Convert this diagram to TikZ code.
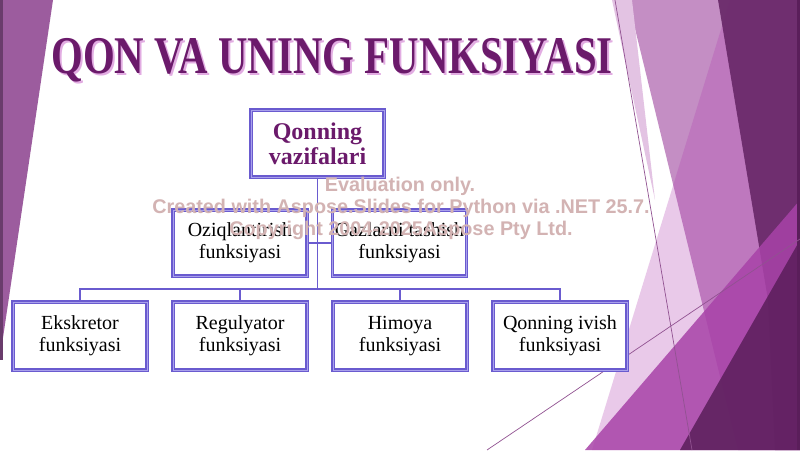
\documentclass[tikz,border=0pt]{standalone}
\usepackage{fontspec}
\setmainfont{Liberation Serif}
\newfontfamily\wmfont{Liberation Sans}
\definecolor{boxc}{HTML}{6A5BCF}
\definecolor{boxin}{HTML}{A9A0EC}
\definecolor{titlec}{HTML}{6B1A6B}
\definecolor{titlesh}{HTML}{E2ACE2}
\definecolor{leftc}{HTML}{9C5C9E}
\definecolor{leftdark}{HTML}{6A3C6C}
\definecolor{lilac}{HTML}{C48EC4}
\definecolor{lightstrip}{HTML}{E3C3E3}
\definecolor{pinkc}{HTML}{B040B0}
\definecolor{darkband}{HTML}{6B2B6B}
\definecolor{magc}{HTML}{A842A8}
\definecolor{darkc}{HTML}{5A1E5A}
\definecolor{thinc}{HTML}{915291}
\definecolor{wmc}{HTML}{D3B3B3}
\newcommand{\titletext}{\scalebox{0.77}[1]{QON VA UNING FUNKSIYASI}}
\tikzset{
  orgbox/.style={draw=boxc, double=boxin, double distance=0.8pt, line width=1.2pt,
    fill=white, minimum width=134pt, minimum height=67pt, inner sep=0pt,
    align=center, font=\fontsize{20}{22}\selectfont},
  topbox/.style={orgbox, font=\fontsize{24}{25}\selectfont\bfseries, text=titlec},
  conn/.style={draw=boxc, line width=1.3pt},
  thinline/.style={draw=thinc, line width=0.7pt},
  wm/.style={text=wmc, font=\wmfont\bfseries\fontsize{19.8}{20}\selectfont, inner sep=0pt}
}
\begin{document}
\begin{tikzpicture}[x=1pt,y=-1pt]
\useasboundingbox (0,0) rectangle (800,450);
\fill[white] (0,0) rectangle (800,450);
% left decoration
\fill[leftc] (0,0) -- (53,0) -- (0,358) -- cycle;
\fill[leftdark] (0,0) rectangle (3,360);
% right decoration
\fill[lilac] (628,0) -- (800,0) -- (800,450) -- (738,450) -- cycle;
\fill[lightstrip] (612,0) -- (632,0) -- (655,200) -- cycle;
\fill[pinkc, opacity=0.28] (730,0) -- (800,0) -- (800,450) -- (592,450) -- cycle;
\fill[darkband, opacity=0.95] (718,0) -- (800,0) -- (800,450) -- (775,450) -- (768,300) -- cycle;
\fill[magc, opacity=0.85] (585,450) -- (800,200) -- (800,450) -- cycle;
\fill[darkc, opacity=0.85] (680,450) -- (800,240) -- (800,450) -- cycle;
\fill[darkc] (797,0) rectangle (800,450);
\coordinate (l1a) at (615,0);
\coordinate (l1b) at (692,450);
\coordinate (l2a) at (487,450);
\coordinate (l2b) at (800,239);
\draw[thinline] (l1a) -- (l1b);
\draw[thinline] (l2a) -- (l2b);
% title (shadow drawn inside the same node)
\node[text=titlec, font=\fontsize{53}{53}\selectfont\bfseries, inner sep=0pt] (title) at (332,61)
  {\rlap{\hspace{2pt}\raisebox{-2pt}{\color{titlesh}\titletext}}\titletext};
% boxes
\node[topbox, minimum width=133pt] (top) at (317.5,143.5) {Qonning\\vazifalari};
\node[orgbox, minimum height=66pt] (m1) at (240,243) {Oziqlantirish\\funksiyasi};
\node[orgbox, minimum height=66pt] (m2) at (399.5,243) {Gazlarni tashish\\funksiyasi};
\node[orgbox, minimum height=68pt] (b1) at (80,336) {Ekskretor\\funksiyasi};
\node[orgbox, minimum height=68pt] (b2) at (240,336) {Regulyator\\funksiyasi};
\node[orgbox, minimum height=68pt] (b3) at (400,336) {Himoya\\funksiyasi};
\node[orgbox, minimum height=68pt] (b4) at (560,336) {Qonning ivish\\funksiyasi};
% connectors
\coordinate (bus) at (317.5,289);
\draw[conn] (top.south) -- (top.south |- bus);
\draw[conn] (m1.east) -- (m2.west);
\draw[conn] (b1.north) -- (b1.north |- bus) -- (b4.north |- bus) -- (b4.north);
\draw[conn] (b2.north) -- (b2.north |- bus);
\draw[conn] (b3.north) -- (b3.north |- bus);
% watermark
\node[wm] (wm1) at (400,186) {Evaluation only.};
\node[wm] (wm2) at (401,208) {Created with Aspose.Slides for Python via .NET 25.7.};
\node[wm] (wm3) at (401,230) {Copyright 2004-2025Aspose Pty Ltd.};
\end{tikzpicture}
\end{document}
